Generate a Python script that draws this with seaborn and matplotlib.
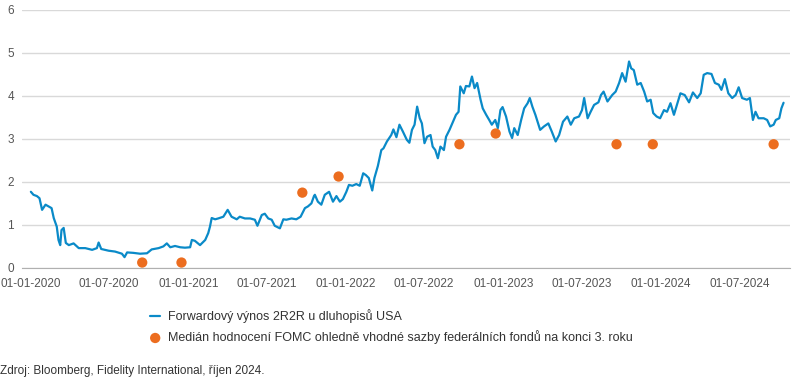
import pandas as pd
import matplotlib
matplotlib.use("Agg")
import matplotlib.pyplot as plt
import matplotlib.dates as mdates
import seaborn as sns

# 2y2y forward yield
yield_dates = [
    "2020-01-02", "2020-01-08", "2020-01-16", "2020-01-22", "2020-01-28", "2020-02-05", "2020-02-12",
    "2020-02-19", "2020-02-24", "2020-03-02", "2020-03-06", "2020-03-10", "2020-03-13", "2020-03-18",
    "2020-03-23", "2020-03-30", "2020-04-10", "2020-04-22", "2020-05-07", "2020-05-23", "2020-06-03",
    "2020-06-07", "2020-06-13", "2020-06-30", "2020-07-15", "2020-07-31", "2020-08-06", "2020-08-12",
    "2020-08-26", "2020-09-11", "2020-09-27", "2020-10-08", "2020-10-24", "2020-11-04", "2020-11-12",
    "2020-11-20", "2020-12-01", "2020-12-13", "2020-12-24",
    "2021-01-05", "2021-01-09", "2021-01-16", "2021-01-28", "2021-02-09", "2021-02-16", "2021-02-20",
    "2021-02-24", "2021-03-04", "2021-03-11", "2021-03-23", "2021-04-02", "2021-04-11", "2021-04-23",
    "2021-04-30", "2021-05-12", "2021-05-24", "2021-06-04", "2021-06-10", "2021-06-20", "2021-06-27",
    "2021-07-05", "2021-07-13", "2021-07-20", "2021-08-01", "2021-08-09", "2021-08-16", "2021-08-28",
    "2021-09-08", "2021-09-18", "2021-09-28", "2021-10-05", "2021-10-13", "2021-10-19", "2021-10-21",
    "2021-10-28", "2021-11-05", "2021-11-13", "2021-11-23", "2021-12-02", "2021-12-10", "2021-12-18",
    "2021-12-25",
    "2022-01-02", "2022-01-08", "2022-01-16", "2022-01-25", "2022-02-02", "2022-02-10", "2022-02-16",
    "2022-02-23", "2022-03-03", "2022-03-08", "2022-03-16", "2022-03-24", "2022-03-29", "2022-04-06",
    "2022-04-16", "2022-04-21", "2022-04-28", "2022-05-05", "2022-05-13", "2022-05-22", "2022-05-28",
    "2022-06-03", "2022-06-09", "2022-06-15", "2022-06-21", "2022-06-26", "2022-07-02", "2022-07-08",
    "2022-07-16", "2022-07-21", "2022-07-27", "2022-08-02", "2022-08-08", "2022-08-16", "2022-08-21",
    "2022-08-29", "2022-09-06", "2022-09-13", "2022-09-19", "2022-09-23", "2022-10-01", "2022-10-06",
    "2022-10-14", "2022-10-20", "2022-10-26", "2022-11-01", "2022-11-09", "2022-11-14", "2022-11-22",
    "2022-11-29", "2022-12-05", "2022-12-13", "2022-12-19", "2022-12-25", "2022-12-30",
    "2023-01-07", "2023-01-15", "2023-01-21", "2023-01-26", "2023-02-03", "2023-02-11", "2023-02-18",
    "2023-02-26", "2023-03-03", "2023-03-09", "2023-03-16", "2023-03-21", "2023-03-27", "2023-04-05",
    "2023-04-15", "2023-04-23", "2023-05-02", "2023-05-10", "2023-05-19", "2023-05-29", "2023-06-06",
    "2023-06-14", "2023-06-25", "2023-07-02", "2023-07-07", "2023-07-15", "2023-07-22", "2023-07-30",
    "2023-08-09", "2023-08-15", "2023-08-21", "2023-08-30", "2023-09-10", "2023-09-18", "2023-09-26",
    "2023-10-03", "2023-10-11", "2023-10-19", "2023-10-24", "2023-10-30", "2023-11-07", "2023-11-15",
    "2023-11-23", "2023-11-30", "2023-12-08", "2023-12-14", "2023-12-22", "2023-12-30",
    "2024-01-08", "2024-01-15", "2024-01-23", "2024-01-31", "2024-02-08", "2024-02-15", "2024-02-25",
    "2024-03-06", "2024-03-15", "2024-03-25", "2024-04-02", "2024-04-09", "2024-04-17", "2024-04-27",
    "2024-05-05", "2024-05-14", "2024-05-20", "2024-05-28", "2024-06-05", "2024-06-14", "2024-06-22",
    "2024-06-29", "2024-07-07", "2024-07-18", "2024-07-25", "2024-08-01", "2024-08-07", "2024-08-14",
    "2024-08-26", "2024-09-03", "2024-09-10", "2024-09-18", "2024-09-23", "2024-10-01", "2024-10-06",
    "2024-10-11",
]
yield_values = [
    1.77, 1.70, 1.67, 1.62, 1.35, 1.47, 1.43,
    1.39, 1.16, 0.96, 0.65, 0.53, 0.88, 0.93,
    0.58, 0.53, 0.57, 0.46, 0.46, 0.42, 0.46,
    0.59, 0.44, 0.40, 0.38, 0.33, 0.25, 0.36,
    0.35, 0.33, 0.34, 0.43, 0.46, 0.50, 0.57,
    0.48, 0.51, 0.48, 0.47,
    0.48, 0.65, 0.63, 0.53, 0.65, 0.81, 0.96,
    1.16, 1.13, 1.15, 1.19, 1.35, 1.19, 1.13,
    1.19, 1.15, 1.15, 1.12, 0.98, 1.23, 1.26,
    1.15, 1.12, 0.98, 0.92, 1.13, 1.12, 1.15,
    1.13, 1.19, 1.39, 1.43, 1.50, 1.67, 1.70,
    1.54, 1.47, 1.70, 1.77, 1.54, 1.67, 1.54,
    1.60,
    1.77, 1.93, 1.91, 1.95, 1.91, 2.20, 2.16,
    2.09, 1.80, 2.09, 2.37, 2.74, 2.78, 2.94,
    3.09, 3.22, 3.04, 3.33, 3.17, 2.98, 2.91,
    3.21, 3.33, 3.75, 3.48, 3.36, 2.90, 3.05,
    3.09, 2.82, 2.74, 2.55, 2.82, 2.74, 3.05,
    3.21, 3.40, 3.56, 3.63, 4.22, 4.06, 4.23,
    4.22, 4.45, 4.18, 4.30, 3.91, 3.71, 3.56,
    3.44, 3.33, 3.44, 3.25, 3.67, 3.74,
    3.52, 3.17, 3.02, 3.25, 3.09, 3.44, 3.71,
    3.83, 3.95, 3.75, 3.56, 3.40, 3.21, 3.29,
    3.36, 3.17, 2.94, 3.09, 3.40, 3.52, 3.33,
    3.48, 3.52, 3.67, 3.95, 3.48, 3.63, 3.79,
    3.85, 4.02, 4.10, 3.87, 4.02, 4.10, 4.30,
    4.53, 4.33, 4.80, 4.64, 4.60, 4.26, 4.30,
    4.10, 3.87, 3.91, 3.60, 3.52, 3.48,
    3.67, 3.63, 3.83, 3.56, 3.83, 4.06, 4.02,
    3.85, 4.08, 3.95, 4.06, 4.49, 4.53, 4.51,
    4.30, 4.26, 4.14, 4.39, 4.06, 3.95, 4.02,
    4.20, 3.95, 3.91, 3.95, 3.44, 3.63, 3.48,
    3.48, 3.44, 3.29, 3.33, 3.44, 3.48, 3.71,
    3.84,
]

# FOMC median dot for end of third year
fomc_dates = ["2020-09-16", "2020-12-16", "2021-09-22", "2021-12-15", "2022-09-21",
              "2022-12-14", "2023-09-20", "2023-12-13", "2024-09-18"]
fomc_values = [0.125, 0.125, 1.75, 2.125, 2.875, 3.125, 2.875, 2.875, 2.875]

line_label = "Forwardový výnos 2R2R u dluhopisů USA"
dot_label = "Medián hodnocení FOMC ohledně vhodné sazby federálních fondů na konci 3. roku"
source_text = "Zdroj: Bloomberg, Fidelity International, říjen 2024."

df_line = pd.DataFrame({"date": pd.to_datetime(yield_dates), "value": yield_values})
df_dots = pd.DataFrame({"date": pd.to_datetime(fomc_dates), "value": fomc_values})

sns.set_style("white")
plt.rcParams["font.family"] = ["Liberation Sans", "DejaVu Sans"]

fig = plt.figure(figsize=(7.94, 3.8), dpi=100)
ax = fig.add_axes([0.028, 0.295, 0.967, 0.679])

sns.lineplot(data=df_line, x="date", y="value", ax=ax, color="#0a8ac8",
             linewidth=1.6, label=line_label)
sns.scatterplot(data=df_dots, x="date", y="value", ax=ax, color="#ec6d1f",
                s=55, edgecolor="none", label=dot_label, zorder=3)

ax.set_ylim(0, 6)
ax.set_yticks(range(0, 7))
ax.set_xlim(pd.Timestamp("2019-12-13"), pd.Timestamp("2024-10-26"))
ticks = pd.date_range("2020-01-01", "2024-07-01", freq="6MS")
ax.set_xticks(ticks)
ax.xaxis.set_major_formatter(mdates.DateFormatter("%d-%m-%Y"))
ax.set_xlabel("")
ax.set_ylabel("")

ax.grid(axis="y", color="#d9d9d9", linewidth=1)
ax.grid(axis="x", visible=False)
for side in ["top", "right", "left"]:
    ax.spines[side].set_visible(False)
ax.spines["bottom"].set_color("#b0b0b0")
ax.tick_params(axis="x", length=5, width=1, color="#333333", labelsize=8.5,
               labelcolor="#555555", pad=2)
ax.tick_params(axis="y", length=0, labelsize=8.5, labelcolor="#555555", pad=6)

handles, labels = ax.get_legend_handles_labels()
ax.get_legend().remove()
fig.legend(handles, labels, loc="upper left", bbox_to_anchor=(0.175, 0.215),
           frameon=False, fontsize=9, handlelength=0.8, handletextpad=0.6,
           labelspacing=0.55, labelcolor="#333333")

fig.text(0.0, 0.015, source_text, fontsize=8.5, color="#333333")

fig.savefig("out.png", dpi=100)
